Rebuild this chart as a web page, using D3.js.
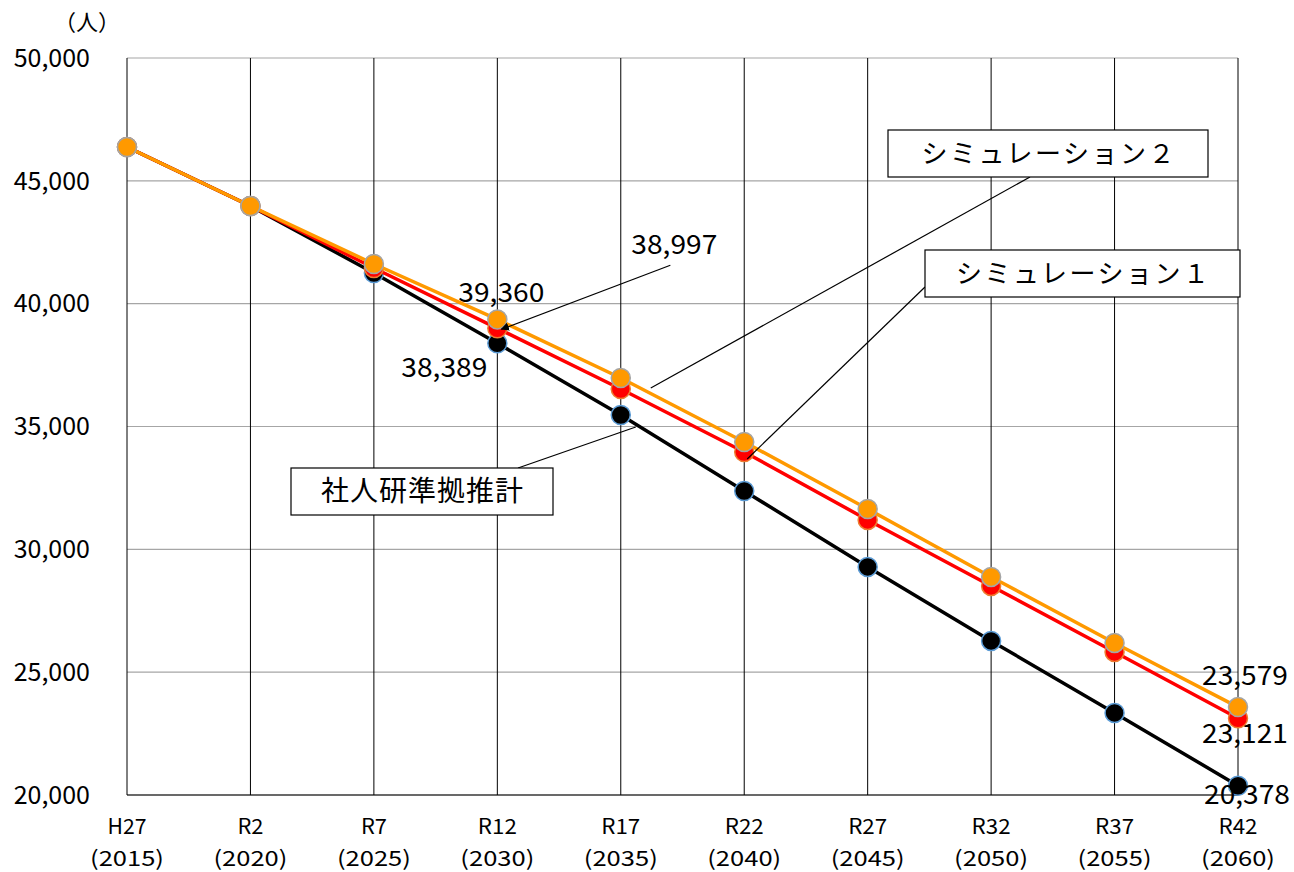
<!DOCTYPE html>
<html>
<head>
<meta charset="utf-8">
<script src="https://cdn.jsdelivr.net/npm/d3@7"></script>
<style>
  body { margin: 0; background: #fff; }
  text { font-family: "Noto Sans CJK JP", "Noto Sans", sans-serif; fill: #000; }
</style>
</head>
<body>
<svg id="chart"></svg>
<script>
// data
var eras = ['H27', 'R2', 'R7', 'R12', 'R17', 'R22', 'R27', 'R32', 'R37', 'R42'];
var years = ['2015', '2020', '2025', '2030', '2035', '2040', '2045', '2050', '2055', '2060'];
var base = [46378, 43976, 41250, 38389, 35470, 32377, 29284, 26272, 23342, 20378];
var sim1 = [46378, 43976, 41453, 38997, 36528, 33964, 31197, 28510, 25824, 23121];
var sim2 = [46378, 43976, 41616, 39360, 36976, 34371, 31644, 28877, 26190, 23579];
var yTicks = [20000, 25000, 30000, 35000, 40000, 45000, 50000];

var W = 1294, H = 872;
var margin = {top: 58, right: 56, bottom: 77, left: 127},
    width = W - margin.left - margin.right,
    height = H - margin.top - margin.bottom;

var svg = d3.select('#chart').attr('width', W).attr('height', H);
var g = svg.append('g').attr('transform', 'translate(' + margin.left + ',' + margin.top + ')');

var x = d3.scalePoint().domain(eras).range([0, width]);
var y = d3.scaleLinear().domain([20000, 50000]).range([height, 0]);
var fmt = d3.format(',');

// horizontal gridlines
g.selectAll('.hgrid').data(yTicks).enter().append('line')
    .attr('x1', 0).attr('x2', width)
    .attr('y1', function(d) { return y(d); }).attr('y2', function(d) { return y(d); })
    .attr('stroke', '#a6a6a6').attr('stroke-width', 1.2);

// vertical gridlines
g.selectAll('.vgrid').data(eras).enter().append('line')
    .attr('x1', function(d) { return x(d); }).attr('x2', function(d) { return x(d); })
    .attr('y1', 0).attr('y2', height)
    .attr('stroke', '#000').attr('stroke-width', 1);

// bottom axis line
g.append('line').attr('x1', 0).attr('x2', width).attr('y1', height).attr('y2', height)
    .attr('stroke', '#000').attr('stroke-width', 1.2);

// y tick labels
g.selectAll('.ylab').data(yTicks).enter().append('text')
    .attr('x', -37).attr('y', function(d) { return y(d); })
    .attr('dy', '0.35em').attr('text-anchor', 'end')
    .style('font-size', '25px')
    .text(function(d) { return fmt(d); });

svg.append('text').attr('x', 87).attr('y', 22).attr('dy', '0.35em')
    .attr('text-anchor', 'middle').style('font-size', '22px').text('（人）');

// x tick labels: era on top, year below
var xl = g.selectAll('.xlab').data(eras).enter().append('g')
    .attr('transform', function(d) { return 'translate(' + x(d) + ',' + height + ')'; });
xl.append('text').attr('y', 32).attr('dy', '0.35em').attr('text-anchor', 'middle')
    .style('font-size', '21px')
    .attr('textLength', function(d) { return d.length * 13; }).attr('lengthAdjust', 'spacingAndGlyphs')
    .text(function(d) { return d; });
xl.append('text').attr('y', 64).attr('dy', '0.35em').attr('text-anchor', 'middle')
    .style('font-size', '21px')
    .attr('textLength', 74).attr('lengthAdjust', 'spacingAndGlyphs')
    .text(function(d, i) { return '(' + years[i] + ')'; });

// series
var series = [
    {values: base, line: '#000000', fill: '#000000', edge: '#5b9bd5'},
    {values: sim1, line: '#ff0000', fill: '#ff0000', edge: '#ed7d31'},
    {values: sim2, line: '#ff9900', fill: '#ff9900', edge: '#a5a5a5'}
];

var line = d3.line()
    .x(function(d, i) { return x(eras[i]); })
    .y(function(d) { return y(d); });

series.forEach(function(s) {
    g.append('path').datum(s.values)
        .attr('fill', 'none').attr('stroke', s.line).attr('stroke-width', 3.5)
        .attr('d', line);
    g.selectAll(null).data(s.values).enter().append('circle')
        .attr('cx', function(d, i) { return x(eras[i]); })
        .attr('cy', function(d) { return y(d); })
        .attr('r', 9.5)
        .attr('fill', s.fill).attr('stroke', s.edge).attr('stroke-width', 1.5);
});

// data labels
function label(txt, px, py) {
    g.append('text').attr('x', px).attr('y', py).attr('dy', '0.35em')
        .attr('text-anchor', 'middle').style('font-size', '27px')
        .attr('textLength', 86).attr('lengthAdjust', 'spacingAndGlyphs')
        .text(txt);
}
var i12 = 3, i42 = 9;
label(fmt(sim2[i12]), x(eras[i12]) + 4, y(sim2[i12]) - 27);
label(fmt(base[i12]), x(eras[i12]) - 53, y(base[i12]) + 24);
label(fmt(sim1[i12]), x(eras[i12]) + 177, y(sim1[i12]) - 84);
label(fmt(sim2[i42]), x(eras[i42]) + 7, y(sim2[i42]) - 32);
label(fmt(sim1[i42]), x(eras[i42]) + 7, y(sim1[i42]) + 15);
label(fmt(base[i42]), x(eras[i42]) + 9, y(base[i42]) + 9);

// arrow for 38,997
svg.append('defs').append('marker').attr('id', 'arr')
    .attr('viewBox', '0 0 10 10').attr('refX', 9).attr('refY', 5)
    .attr('markerWidth', 7).attr('markerHeight', 7).attr('orient', 'auto')
    .append('path').attr('d', 'M0,0 L10,5 L0,10 Z').attr('fill', '#000');
g.append('line')
    .attr('x1', x(eras[i12]) + 173).attr('y1', y(sim1[i12]) - 63)
    .attr('x2', x(eras[i12]) + 4).attr('y2', y(sim1[i12]) + 1)
    .attr('stroke', '#000').attr('stroke-width', 1.2)
    .attr('marker-end', 'url(#arr)');

// callout boxes with leader lines (series names)
var callouts = [
    {name: 'シミュレーション２', bx: 888, by: 130, bw: 320, bh: 47, lx: 1030, ly: 177, idx: 4, vals: sim2, dx: 30, dy: 10, fs: 26, ls: 2.5},
    {name: 'シミュレーション１', bx: 925, by: 250, bw: 315, bh: 47, lx: 925, ly: 287, idx: 5, vals: sim1, dx: 3, dy: 7, fs: 26, ls: 2.5},
    {name: '社人研準拠推計', bx: 291, by: 468, bw: 262, bh: 47, lx: 518, ly: 468, idx: 4, vals: base, dx: 15, dy: 12, fs: 28, ls: 1}
];
callouts.forEach(function(c) {
    svg.append('line')
        .attr('x1', c.lx).attr('y1', c.ly)
        .attr('x2', margin.left + x(eras[c.idx]) + c.dx)
        .attr('y2', margin.top + y(c.vals[c.idx]) + c.dy)
        .attr('stroke', '#000').attr('stroke-width', 1.2);
    svg.append('rect').attr('x', c.bx).attr('y', c.by).attr('width', c.bw).attr('height', c.bh)
        .attr('fill', '#fff').attr('stroke', '#000').attr('stroke-width', 1.2);
    svg.append('text').attr('x', c.bx + c.bw / 2 + c.ls / 2).attr('y', c.by + c.bh / 2)
        .attr('dy', '0.35em').attr('text-anchor', 'middle')
        .style('font-size', c.fs + 'px').style('letter-spacing', c.ls + 'px')
        .text(c.name);
});
</script>
</body>
</html>
